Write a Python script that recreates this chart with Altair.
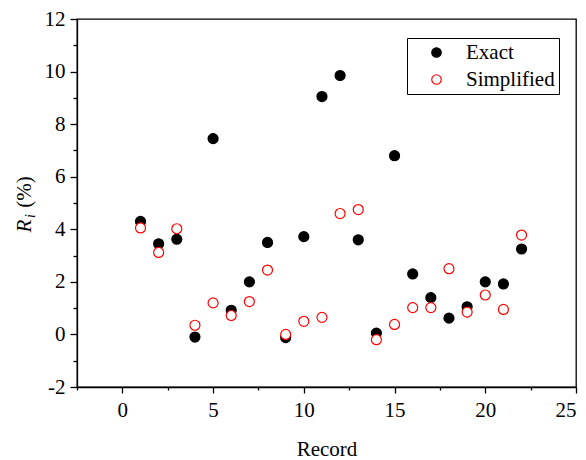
import altair as alt
import pandas as pd

records = list(range(1, 23))
exact = [4.3, 3.45, 3.62, -0.1, 7.45, 0.92, 2.0, 3.5, -0.12, 3.72, 9.05, 9.85,
         3.6, 0.05, 6.8, 2.3, 1.4, 0.62, 1.05, 2.0, 1.92, 3.25]
simplified = [4.05, 3.12, 4.02, 0.35, 1.2, 0.72, 1.25, 2.45, 0.0, 0.5, 0.65, 4.6,
              4.75, -0.2, 0.38, 1.02, 1.02, 2.5, 0.85, 1.5, 0.95, 3.78]
series_names = ["Exact", "Simplified"]

x_major = [0, 5, 10, 15, 20, 25]
x_minor = [-2.5, 2.5, 7.5, 12.5, 17.5, 22.5]
y_major = [-2, 0, 2, 4, 6, 8, 10, 12]
y_minor = [-1, 1, 3, 5, 7, 9, 11]

rows = []
for r, v in zip(records, exact):
    rows.append({"Record": r, "R": v, "series": "Exact", "order": 0})
for r, v in zip(records, simplified):
    rows.append({"Record": r, "R": v, "series": "Simplified", "order": 1})
df = pd.DataFrame(rows)

FONT = "Liberation Serif"
xscale = alt.Scale(domain=[-2.5, 25], nice=False, zero=False)
yscale = alt.Scale(domain=[-2, 12], nice=False, zero=False)

points = alt.Chart(df).mark_point(size=100, strokeWidth=1.2, opacity=1).encode(
    x=alt.X("Record:Q", scale=xscale,
            axis=alt.Axis(values=x_major, orient="bottom", title="Record", tickSize=6,
                          labelPadding=6, titlePadding=18, labelExpr="'' + datum.value",
                          labelFont=FONT, titleFont=FONT)),
    y=alt.Y("R:Q", scale=yscale,
            axis=alt.Axis(values=y_major, orient="left", title=None, tickSize=7,
                          labelPadding=5, labelExpr="'' + datum.value", labelFont=FONT)),
    color=alt.Color("series:N", scale=alt.Scale(domain=series_names, range=["black", "red"]),
                    legend=alt.Legend(title=None, orient="none", legendX=330, legendY=19,
                                      strokeColor="black", padding=4, symbolOffset=15,
                                      labelOffset=19, rowPadding=5, symbolSize=90,
                                      symbolStrokeWidth=1.2, labelFontSize=21, labelFont=FONT,
                                      fillColor="white", labelColor="black")),
    fill=alt.Fill("series:N", scale=alt.Scale(domain=series_names, range=["black", "white"]),
                  legend=alt.Legend(title=None, orient="none", legendX=330, legendY=19)),
    order=alt.Order("order:Q"),
)

minor = alt.Chart(df).mark_point(opacity=0).encode(
    x=alt.X("Record:Q", scale=xscale,
            axis=alt.Axis(values=x_minor, orient="bottom", labels=False, domain=False,
                          title=None, tickSize=3)),
    y=alt.Y("R:Q", scale=yscale,
            axis=alt.Axis(values=y_minor, orient="left", labels=False, domain=False,
                          title=None, tickSize=4)),
)

tdf = pd.DataFrame({"t": ["x"]})
t_R = alt.Chart(tdf).mark_text(text="R", font=FONT, fontSize=21, fontStyle="italic",
                               angle=270, align="center", baseline="middle", color="black").encode(
    x=alt.value(-52), y=alt.value(207))
t_i = alt.Chart(tdf).mark_text(text="i", font=FONT, fontSize=14, fontStyle="italic",
                               angle=270, align="center", baseline="middle", color="black").encode(
    x=alt.value(-46), y=alt.value(197))
t_pct = alt.Chart(tdf).mark_text(text="(%)", font=FONT, fontSize=21,
                                 angle=270, align="center", baseline="middle", color="black").encode(
    x=alt.value(-52), y=alt.value(173))

chart = alt.layer(minor, points, t_R, t_i, t_pct).resolve_axis(
    x="independent", y="independent"
).properties(
    width=499, height=368,
    padding={"left": 77, "top": 19, "right": 10, "bottom": 73},
    autosize=alt.AutoSizeParams(type="none"),
    background="white",
).configure(
    font=FONT,
    view=alt.ViewConfig(stroke="black", strokeWidth=1.3),
    axis=alt.AxisConfig(grid=False, domainColor="black", domainWidth=1.3,
                        tickColor="black", tickWidth=1.3, labelFontSize=21,
                        labelColor="black", titleFontSize=21, titleFontWeight="normal",
                        titleColor="black"),
)

chart.save("out.html", embed_options={"renderer": "svg", "actions": False})
